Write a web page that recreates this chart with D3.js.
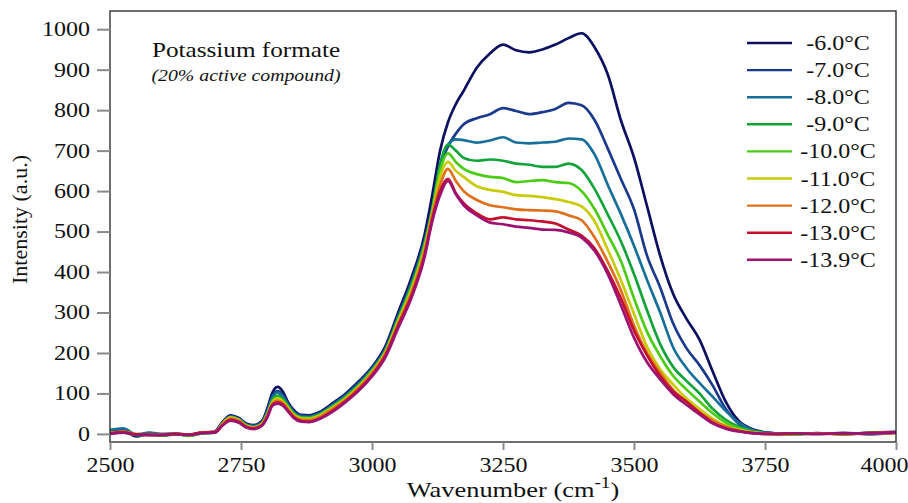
<!DOCTYPE html>
<html>
<head>
<meta charset="utf-8">
<script src="https://cdn.jsdelivr.net/npm/d3@7"></script>
<style>
  body { margin: 0; background: #fff; }
  text { font-family: "Liberation Serif", "Times New Roman", serif; fill: #111; }
</style>
</head>
<body>
<div id="chart"></div>
<script>
// wavenumber grid (cm-1), shared by every series
const wavenumbers = [2500, 2525, 2550, 2575, 2600, 2625, 2650, 2675, 2700,
  2715, 2730, 2745, 2760, 2775, 2790,
  2800, 2810, 2820, 2830, 2840, 2850, 2865, 2880,
  2900, 2925, 2950, 2975, 3000, 3025, 3050, 3075,
  3100, 3115, 3130, 3145, 3160, 3175, 3200, 3225,
  3250, 3275, 3300, 3325, 3350, 3375, 3400,
  3425, 3450, 3475, 3500, 3525, 3550, 3575, 3600,
  3625, 3650, 3675, 3700, 3725, 3750, 3775, 3800,
  3850, 3900, 3950, 4000];

const labels = ["-6.0°C", "-7.0°C", "-8.0°C", "-9.0°C", "-10.0°C", "-11.0°C", "-12.0°C", "-13.0°C", "-13.9°C"];
const colors = ["#0d1060", "#1b3a8c", "#17709a", "#12a33a", "#4ccc14", "#c8cc08", "#e0701a", "#c4102c", "#9c1272"];

// intensities (a.u.)
const t60 = [2, 8, -6, 0, -4, -1, -3, 2, 6,
  30, 46, 40, 26, 22, 32,
  62, 102, 116, 104, 78, 60, 47, 46,
  54, 76, 100, 130, 165, 215, 300, 385,
  490, 590, 700, 770, 815, 848, 905, 940,
  962, 948, 943, 950, 962, 978, 990,
  955, 888, 775, 683, 562, 440, 345, 285,
  233, 155, 80, 32, 12, 4, 1, -1,
  2, -1, 3, 5];
const t70 = [6, 12, -3, 2, -2, 0, -4, 3, 5,
  28, 44, 38, 24, 20, 29,
  56, 94, 106, 96, 74, 56, 45, 44,
  52, 73, 97, 127, 162, 210, 292, 375,
  478, 560, 660, 710, 742, 765, 780, 790,
  805, 798, 790, 795, 803, 818, 812,
  775, 705, 630, 555, 440, 362, 272, 212,
  170, 120, 62, 25, 9, 3, 1, 0,
  1, 2, 0, 4];
const t80 = [10, 14, -1, 3, 0, 1, -2, 2, 4,
  27, 43, 37, 23, 19, 28,
  54, 90, 102, 92, 72, 54, 43, 42,
  50, 71, 95, 124, 160, 207, 288, 370,
  470, 555, 665, 715, 728, 726, 720, 725,
  733, 720, 718, 720, 722, 730, 728,
  690, 615, 543, 465, 380, 300, 213, 163,
  126, 92, 57, 28, 10, 3, 0, 1,
  0, 2, -1, 3];
const t90 = [1, 4, -3, -2, -4, 0, -5, 1, 3,
  26, 41, 36, 22, 17, 26,
  50, 84, 94, 86, 68, 52, 41, 40,
  48, 68, 92, 121, 157, 204, 285, 365,
  468, 555, 665, 715, 700, 682, 675, 678,
  675, 668, 665, 660, 660, 668, 652,
  605, 542, 476, 395, 305, 222, 165, 131,
  100, 62, 35, 18, 7, 2, 0, -1,
  1, 0, 2, 3];
const t100 = [2, 3, -2, -1, -3, 1, -4, 2, 3,
  25, 40, 35, 21, 16, 25,
  48, 80, 90, 82, 66, 50, 40, 39,
  47, 67, 90, 119, 155, 202, 282, 360,
  462, 550, 650, 693, 672, 655, 642, 635,
  632, 622, 625, 627, 622, 620, 600,
  555, 492, 427, 335, 252, 192, 143, 110,
  80, 51, 28, 14, 5, 1, 0, -1,
  1, 0, 2, 4];
const t110 = [3, 5, 0, -2, -2, 0, -3, 3, 4,
  26, 41, 35, 20, 16, 25,
  47, 78, 87, 80, 64, 48, 38, 37,
  45, 65, 88, 117, 153, 200, 278, 355,
  458, 545, 635, 672, 650, 635, 612, 603,
  598, 590, 588, 585, 580, 573, 562,
  525, 455, 380, 296, 215, 160, 122, 88,
  62, 38, 20, 10, 4, 1, 0, 0,
  1, 0, 1, 3];
const t120 = [0, 6, -2, -3, -1, 1, -2, 4, 5,
  24, 38, 33, 19, 15, 23,
  45, 75, 82, 76, 60, 45, 35, 34,
  42, 62, 85, 114, 150, 197, 272, 348,
  450, 540, 615, 655, 625, 600, 578, 565,
  560, 555, 553, 552, 550, 540, 528,
  485, 425, 355, 268, 200, 151, 108, 80,
  53, 33, 18, 8, 3, 0, -1, 0,
  1, 0, 2, 2];
const t130 = [2, 4, -1, -2, -3, 0, -2, 3, 4,
  22, 35, 30, 17, 13, 21,
  42, 72, 78, 72, 57, 42, 32, 30,
  38, 57, 81, 110, 145, 192, 268, 340,
  440, 530, 600, 630, 595, 570, 545, 530,
  535, 530, 528, 525, 520, 505, 490,
  458, 402, 335, 256, 194, 143, 105, 80,
  53, 28, 14, 7, 2, 0, 0, 1,
  0, 1, 2, 4];
const t139 = [0, 3, -2, -3, -2, 0, -3, 2, 3,
  21, 33, 28, 16, 12, 20,
  40, 70, 75, 70, 55, 40, 30, 29,
  37, 55, 79, 107, 142, 188, 262, 335,
  435, 525, 590, 625, 592, 565, 540, 522,
  518, 512, 509, 505, 504, 498, 485,
  452, 395, 318, 238, 177, 135, 98, 72,
  48, 26, 13, 6, 2, 0, 0, 1,
  0, 2, 1, 3];

const intensities = [t60, t70, t80, t90, t100, t110, t120, t130, t139];

const xTicks = [2500, 2750, 3000, 3250, 3500, 3750, 4000];
const yTicks = [0, 100, 200, 300, 400, 500, 600, 700, 800, 900, 1000];

// text in the original is stretched a bit sideways
const stretch = "scale(1.2,1)";

var margin = {top: 11, right: 12, bottom: 61, left: 110},
    width = 908 - margin.left - margin.right,
    height = 503 - margin.top - margin.bottom;

var root = d3.select("#chart")
  .append("svg")
    .attr("width", 908)
    .attr("height", 503);
var svg = root.append("g")
    .attr("transform", "translate(" + margin.left + "," + margin.top + ")");

var x = d3.scaleLinear().domain([2500, 4000]).range([0, width]);
var y = d3.scaleLinear().domain([-20, 1045]).range([height, 0]);

// clip for the spectra
svg.append("clipPath").attr("id", "plotclip")
  .append("rect").attr("width", width).attr("height", height);

// spectra, first temperature drawn first
var line = d3.line()
  .x(d => x(d[0]))
  .y(d => y(d[1]))
  .curve(d3.curveMonotoneX);

var plot = svg.append("g").attr("clip-path", "url(#plotclip)");
intensities.forEach((vals, i) => {
  plot.append("path")
    .datum(wavenumbers.map((w, j) => [w, vals[j]]))
    .attr("fill", "none")
    .attr("stroke", colors[i])
    .attr("stroke-width", 2.7)
    .attr("stroke-linejoin", "round")
    .attr("d", line);
});

// frame
svg.append("rect")
  .attr("width", width).attr("height", height)
  .attr("fill", "none")
  .attr("stroke", "#222")
  .attr("stroke-width", 1.3);

// Y axis ticks
var yAxis = svg.append("g")
  .call(d3.axisLeft(y).tickValues(yTicks).tickSize(13).tickFormat(d3.format("d")));
yAxis.select(".domain").remove();
yAxis.selectAll(".tick line").attr("stroke", "#8a8a8a").attr("stroke-width", 2);
yAxis.selectAll(".tick text")
  .attr("x", 0)
  .attr("transform", "translate(-20,0) " + stretch)
  .attr("font-size", 20)
  .attr("font-family", "Liberation Serif")
  .attr("fill", "#111");

// X axis ticks
var xAxis = svg.append("g")
  .attr("transform", "translate(0," + height + ")")
  .call(d3.axisBottom(x).tickValues(xTicks).tickSize(8).tickFormat(d3.format("d")));
xAxis.select(".domain").remove();
xAxis.selectAll(".tick line").attr("stroke", "#8a8a8a").attr("stroke-width", 2);
xAxis.selectAll(".tick text")
  .attr("y", 0).attr("dy", 0)
  .attr("transform", (d, i) => "translate(" + (d === 4000 ? -12 : 0) + ",30) " + stretch)
  .attr("font-size", 20)
  .attr("font-family", "Liberation Serif")
  .attr("fill", "#111");

// axis titles
root.append("text")
  .attr("transform", "translate(27," + (margin.top + height / 2 - 7) + ") rotate(-90)")
  .attr("text-anchor", "middle")
  .attr("font-size", 22)
  .text("Intensity (a.u.)");

var xt = root.append("text")
  .attr("transform", "translate(" + (margin.left + width / 2 + 10) + ",497) " + stretch)
  .attr("text-anchor", "middle")
  .attr("font-size", 22);
xt.append("tspan").text("Wavenumber (cm");
xt.append("tspan").attr("font-size", 16).attr("dy", -9).text("-1");
xt.append("tspan").attr("dy", 9).text(")");

// title
root.append("text")
  .attr("transform", "translate(246,57) " + stretch)
  .attr("text-anchor", "middle")
  .attr("font-size", 21)
  .text("Potassium formate");
root.append("text")
  .attr("transform", "translate(246,81) " + stretch)
  .attr("text-anchor", "middle")
  .attr("font-size", 16.5)
  .attr("font-style", "italic")
  .text("(20% active compound)");

// legend
var legend = root.append("g");
labels.forEach((lab, i) => {
  var cy = 43 + i * 27.1;
  legend.append("line")
    .attr("x1", 747).attr("x2", 792)
    .attr("y1", cy).attr("y2", cy)
    .attr("stroke", colors[i])
    .attr("stroke-width", 2.4);
  legend.append("text")
    .attr("transform", "translate(838," + (cy + 7) + ") " + stretch)
    .attr("text-anchor", "middle")
    .attr("font-size", 20)
    .text(lab);
});
</script>
</body>
</html>
